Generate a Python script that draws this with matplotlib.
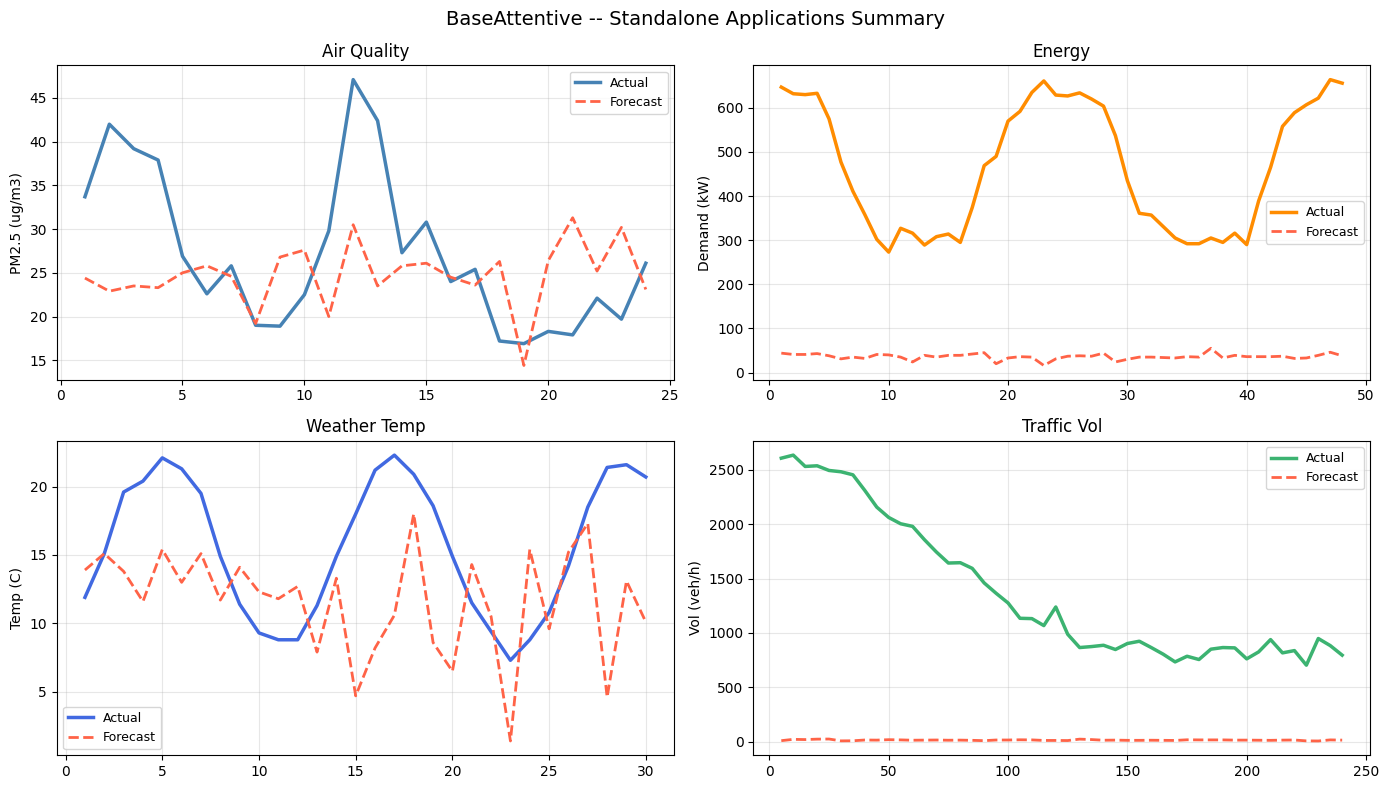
import numpy as np
import matplotlib
matplotlib.use("Agg")
import matplotlib.pyplot as plt

# Air quality (hourly steps 1..24)
aq_x = np.arange(1, 25)
aq_actual = [33.7, 42.0, 39.2, 37.9, 26.9, 22.6, 25.8, 19.0, 18.9, 22.5, 29.8, 47.1,
             42.4, 27.3, 30.8, 24.0, 25.4, 17.2, 16.9, 18.3, 17.9, 22.1, 19.7, 26.1]
aq_forecast = [24.4, 22.9, 23.5, 23.3, 25.0, 25.8, 24.6, 19.2, 26.8, 27.6, 20.0, 30.5,
               23.5, 25.8, 26.1, 24.5, 23.6, 26.3, 14.4, 26.4, 31.3, 25.2, 30.2, 23.1]

# Energy (steps 1..48)
en_x = np.arange(1, 49)
en_actual = [647, 632, 630, 633, 575, 477, 411, 358, 302, 273, 327, 316,
             289, 308, 314, 295, 374, 469, 490, 570, 592, 635, 661, 629,
             627, 634, 620, 604, 537, 435, 361, 357, 331, 305, 292, 292,
             305, 295, 316, 290, 389, 465, 558, 589, 607, 622, 664, 656]
en_forecast = [44, 41, 41, 43, 38, 31, 35, 32, 41, 40, 35, 24,
               39, 35, 39, 39, 42, 45, 20, 33, 36, 35, 16, 31,
               37, 38, 37, 44, 24, 30, 35, 35, 34, 33, 36, 35,
               55, 33, 39, 36, 36, 36, 37, 32, 33, 39, 46, 38]

# Weather temperature (steps 1..30)
wt_x = np.arange(1, 31)
wt_actual = [11.9, 15.1, 19.6, 20.4, 22.1, 21.3, 19.5, 14.9, 11.4, 9.3,
             8.8, 8.8, 11.3, 14.9, 18.0, 21.2, 22.3, 20.9, 18.6, 14.9,
             11.5, 9.4, 7.3, 8.8, 10.8, 14.2, 18.5, 21.4, 21.6, 20.7]
wt_forecast = [13.9, 15.1, 13.8, 11.6, 15.4, 13.0, 15.1, 11.7, 14.1, 12.3,
               11.8, 12.7, 7.9, 13.3, 4.7, 8.2, 10.6, 18.0, 8.6, 6.5,
               14.3, 10.5, 1.4, 15.4, 9.6, 15.2, 17.3, 4.6, 13.1, 10.1]

# Traffic volume (every 5 steps, 5..240)
tr_x = np.arange(5, 241, 5)
tr_actual = [2607, 2635, 2531, 2537, 2494, 2482, 2454, 2310, 2157, 2062, 2004, 1980,
             1857, 1744, 1643, 1646, 1594, 1460, 1365, 1276, 1135, 1132, 1068, 1239,
             988, 866, 875, 887, 848, 903, 924, 866, 805, 734, 786, 756,
             851, 866, 863, 762, 826, 939, 817, 838, 704, 949, 884, 796]
tr_forecast = [10, 22, 20, 24, 25, 8, 9, 16, 15, 19, 17, 14,
               15, 16, 14, 15, 13, 10, 16, 16, 18, 17, 12, 12,
               11, 24, 20, 14, 15, 13, 13, 14, 13, 12, 18, 17,
               17, 17, 15, 15, 14, 13, 15, 16, 8, 7, 17, 15]

panels = [
    ("Air Quality", aq_x, aq_actual, aq_forecast, "steelblue", "PM2.5 (ug/m3)", "upper right"),
    ("Energy", en_x, en_actual, en_forecast, "darkorange", "Demand (kW)", "center right"),
    ("Weather Temp", wt_x, wt_actual, wt_forecast, "royalblue", "Temp (C)", "lower left"),
    ("Traffic Vol", tr_x, tr_actual, tr_forecast, "mediumseagreen", "Vol (veh/h)", "upper right"),
]

fig, axes = plt.subplots(2, 2, figsize=(14, 8), dpi=100)

for ax, (title, x, act, fc, col, ylab, loc) in zip(axes.flatten(), panels):
    ax.plot(x, act, color=col, lw=2.5, label="Actual")
    ax.plot(x, fc, color="tomato", lw=2, ls="--", label="Forecast")
    ax.set_title(title)
    ax.set_ylabel(ylab)
    ax.grid(True, alpha=0.3)
    ax.legend(loc=loc, fontsize=9)

fig.suptitle("BaseAttentive -- Standalone Applications Summary", fontsize=14)
plt.tight_layout()
plt.savefig("out.png", dpi=100, bbox_inches="tight")
